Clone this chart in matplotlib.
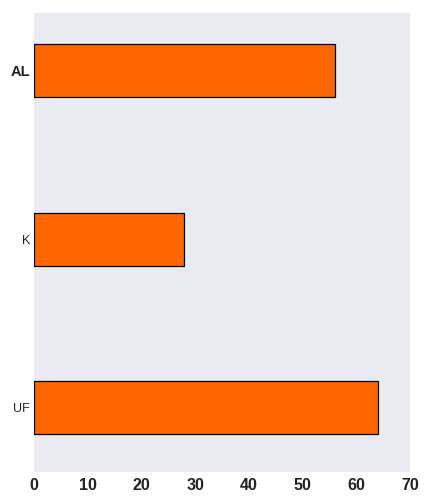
import matplotlib
matplotlib.use('Agg')
import matplotlib.pyplot as plt
import numpy as np

categories = ['UF', 'K', 'AL']
values = [64, 28, 56]
xticks = [0, 10, 20, 30, 40, 50, 60, 70]

plt.rcParams['font.family'] = ['Liberation Sans', 'DejaVu Sans']

fig = plt.figure(figsize=(4.32, 5.04), dpi=100)
ax = fig.add_axes([34/432, 1 - 472/504, 376/432, 459/504])
ax.set_facecolor('#EAEAF2')
for s in ax.spines.values():
    s.set_visible(False)

pos = np.arange(len(categories))
ax.barh(pos, values, height=0.315, color='#FF6600', edgecolor='black', linewidth=0.9)

ax.set_xlim(0, 70)
ax.set_ylim(-0.38, 2.34)
ax.set_xticks(xticks)
ax.set_xticklabels([str(t) for t in xticks], fontsize=11.5, fontweight='bold', color='#222222')
ax.set_yticks(pos)
ax.set_yticklabels(categories, fontsize=9, color='#222222')
lbls = ax.get_yticklabels()
lbls[2].set_fontsize(10.5)
lbls[2].set_fontweight('bold')
ax.tick_params(axis='y', length=0, pad=3)
ax.tick_params(axis='x', length=0, pad=4)
ax.grid(False)

plt.savefig('out.png', dpi=100)
